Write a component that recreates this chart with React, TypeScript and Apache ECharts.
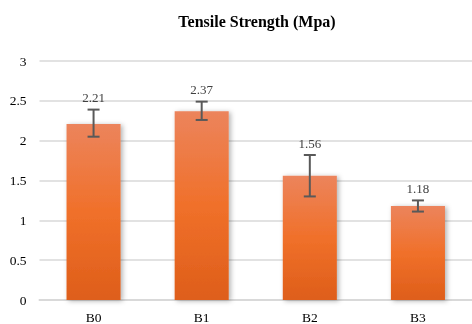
import React, { useEffect, useRef } from "react";
import * as echarts from "echarts";

const categories = ["B0", "B1", "B2", "B3"];
const values = [2.21, 2.37, 1.56, 1.18];
const errLow = [2.05, 2.26, 1.30, 1.11];
const errHigh = [2.39, 2.49, 1.82, 1.25];
const yTicks = { min: 0, max: 3, interval: 0.5 };

export default function App() {
  const ref = useRef<HTMLDivElement>(null);
  useEffect(() => {
    const chart = echarts.init(ref.current!, null, { renderer: "svg" });
    const font = "'Liberation Serif', 'Times New Roman', serif";
    chart.setOption({
      animation: false,
      title: {
        text: "Tensile Strength (Mpa)",
        left: 252,
        textAlign: "center",
        top: 8,
        textStyle: { fontFamily: font, fontSize: 16, fontWeight: "bold", color: "#000" },
      },
      grid: { left: 39.5, right: -8, top: 61, bottom: 23, containLabel: false },
      xAxis: {
        type: "category",
        data: categories,
        axisTick: { show: false },
        axisLine: { lineStyle: { color: "#d9d9d9", width: 2 } },
        axisLabel: { fontFamily: font, fontSize: 13.5, color: "#000", margin: 10 },
      },
      yAxis: {
        type: "value",
        min: yTicks.min,
        max: yTicks.max,
        interval: yTicks.interval,
        axisLine: { show: false },
        axisTick: { show: false },
        splitLine: { lineStyle: { color: "#d9d9d9", width: 1.5 } },
        axisLabel: { fontFamily: font, fontSize: 13.5, color: "#000", margin: 13 },
      },
      series: [
        {
          type: "bar",
          data: values,
          barWidth: "50%",
          itemStyle: {
            color: new echarts.graphic.LinearGradient(0, 0, 0, 1, [
              { offset: 0, color: "#EC845C" },
              { offset: 0.5, color: "#F0702A" },
              { offset: 1, color: "#DE5E1A" },
            ]),
            shadowBlur: 5,
            shadowColor: "rgba(0,0,0,0.3)",
            shadowOffsetX: 2,
            shadowOffsetY: 1,
          },
        },
        {
          type: "custom",
          data: categories.map((_, i) => [i, errLow[i], errHigh[i], values[i]]),
          renderItem: (params: any, api: any) => {
            const i = api.value(0);
            const lo = api.coord([i, api.value(1)]);
            const hi = api.coord([i, api.value(2)]);
            const x = lo[0];
            const half = 6;
            const style = { stroke: "#595959", lineWidth: 2 };
            return {
              type: "group",
              children: [
                { type: "line", shape: { x1: x, y1: lo[1], x2: x, y2: hi[1] }, style },
                { type: "line", shape: { x1: x - half, y1: lo[1], x2: x + half, y2: lo[1] }, style },
                { type: "line", shape: { x1: x - half, y1: hi[1], x2: x + half, y2: hi[1] }, style },
                {
                  type: "text",
                  x: x,
                  y: hi[1] - 12,
                  style: {
                    text: api.value(3).toFixed(2),
                    fontFamily: font,
                    fontSize: 13,
                    fill: "#404040",
                    align: "center",
                    verticalAlign: "middle",
                  },
                },
              ],
            };
          },
          z: 5,
        },
      ],
    });
    return () => chart.dispose();
  }, []);
  return <div ref={ref} style={{ width: 472, height: 324, position: "fixed", left: 0, top: 0 }} />;
}
